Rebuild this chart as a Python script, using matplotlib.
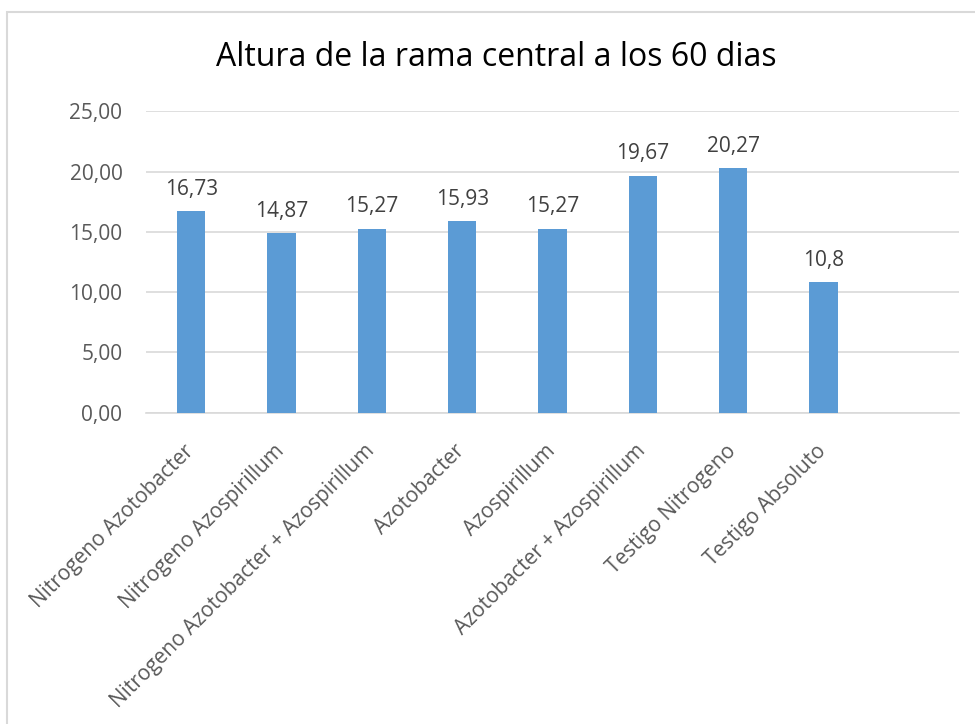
import matplotlib
matplotlib.use("Agg")
import matplotlib.pyplot as plt
from matplotlib.patches import Rectangle
from matplotlib.transforms import ScaledTranslation

categories = ["Nitrogeno Azotobacter", "Nitrogeno Azospirillum",
              "Nitrogeno Azotobacter + Azospirillum", "Azotobacter",
              "Azospirillum", "Azotobacter + Azospirillum",
              "Testigo Nitrogeno", "Testigo Absoluto"]
values = [16.73, 14.87, 15.27, 15.93, 15.27, 19.67, 20.27, 10.8]
yticks = [0, 5, 10, 15, 20, 25]
ytick_labels = ["0,00", "5,00", "10,00", "15,00", "20,00", "25,00"]
title = "Altura de la rama central a los 60 dias"

plt.rcParams['font.family'] = ['Open Sans', 'DejaVu Sans']

fig = plt.figure(figsize=(9.75, 7.24), dpi=100)
ax = fig.add_axes([146/975, 1-412.7/724, (959-146)/975, (412.7-111.3)/724])

x = list(range(len(categories)))
ax.bar(x, values, width=0.31, color="#5B9BD5", zorder=3)
for xi, v in zip(x, values):
    ax.annotate(str(v).replace(".", ","), (xi, v), xytext=(0, 8),
                textcoords="offset points", ha="center", va="bottom",
                fontsize=15, color="#404040")

ax.set_xlim(-0.5, 8.5)
ax.set_ylim(0, 25)
ax.set_yticks(yticks)
ax.set_yticklabels(ytick_labels, fontsize=15, color="#595959")
ax.set_xticks(x)
ax.set_xticklabels(categories, rotation=45, ha="right", va="top",
                   rotation_mode="anchor", fontsize=15, color="#595959")
ax.tick_params(axis="both", length=0)
ax.tick_params(axis="y", pad=17)
ax.tick_params(axis="x", pad=18)
shift = ScaledTranslation(-8/100, -3/100, fig.dpi_scale_trans)
for lab in ax.get_xticklabels():
    lab.set_transform(lab.get_transform() + shift)
ax.yaxis.grid(True, color="#D9D9D9", linewidth=1.2, zorder=0)
for s in ["top", "right", "left"]:
    ax.spines[s].set_visible(False)
ax.spines["bottom"].set_color("#D9D9D9")
ax.spines["bottom"].set_linewidth(1.2)

fig.text(496/975, 1-57/724, title, ha="center", va="center",
         fontsize=23, color="#000000")

fig.patches.append(Rectangle((7/975, -0.5), 2, 1.5-12/724,
                             transform=fig.transFigure, fill=False,
                             edgecolor="#D9D9D9", linewidth=1.5))

fig.savefig("out.png", dpi=100)
